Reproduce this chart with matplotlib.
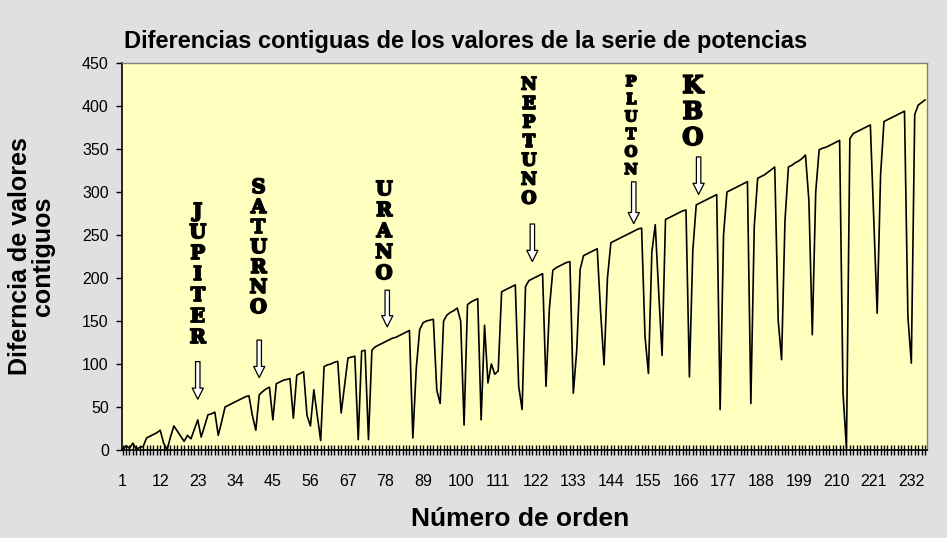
import matplotlib
matplotlib.use("Agg")
import matplotlib.pyplot as plt
import matplotlib.patheffects as pe
from matplotlib.ticker import FixedLocator
import numpy as np

# diferencias contiguas (236 puntos)
valores = [
    0, 5, 2, 8, 1, 3, 4, 14, 16, 18,
    20, 23, 8, 0, 15, 28, 22, 16, 10, 17,
    13, 24, 35, 15, 28, 41, 42, 44, 17, 33,
    50, 52, 54, 56, 58, 60, 62, 63, 40, 23,
    64, 68, 71, 73, 35, 77, 79, 81, 82, 83,
    37, 87, 89, 91, 40, 28, 70, 40, 11, 97,
    99, 100, 102, 103, 43, 75, 107, 108, 109, 12,
    115, 116, 12, 116, 120, 122, 124, 126, 128, 130,
    131, 133, 135, 137, 139, 14, 95, 140, 148, 150,
    151, 152, 70, 54, 150, 157, 160, 162, 165, 150,
    29, 169, 172, 174, 176, 35, 145, 78, 100, 88,
    92, 184, 186, 188, 190, 192, 74, 47, 190, 197,
    199, 201, 203, 205, 74, 165, 209, 212, 214, 216,
    218, 219, 66, 116, 210, 226, 228, 230, 232, 234,
    160, 99, 200, 241, 243, 245, 247, 249, 251, 253,
    255, 257, 258, 132, 89, 230, 262, 184, 110, 268,
    270, 272, 274, 276, 278, 279, 85, 232, 285, 287,
    289, 291, 293, 295, 297, 47, 250, 300, 302, 304,
    306, 308, 310, 312, 54, 260, 316, 318, 320, 323,
    326, 329, 151, 105, 267, 329, 331, 334, 336, 339,
    343, 290, 134, 300, 349, 351, 352, 354, 356, 358,
    360, 66, 2, 362, 368, 370, 372, 374, 376, 378,
    270, 159, 320, 382, 384, 386, 388, 390, 392, 394,
    155, 101, 390, 401, 404, 407,
]
orden = np.arange(1, len(valores) + 1)

etiquetas_x = [1, 12, 23, 34, 45, 56, 67, 78, 89, 100, 111,
               122, 133, 144, 155, 166, 177, 188, 199, 210, 221, 232]
ticks_y = [0, 50, 100, 150, 200, 250, 300, 350, 400, 450]

planetas = ["JUPITER", "SATURNO", "URANO", "NEPTUNO", "PLUTON", "KBO"]
texto_x = [23, 40.8, 77.6, 120, 149.9, 168]
texto_y = [276.7, 304.7, 302.3, 424.4, 427.9, 423.3]
texto_size = [14, 14, 14, 12.5, 10.5, 17.5]
texto_paso = [21, 20, 21, 19, 17.6, 26]      # px entre letras
flecha_x = [23, 41, 78.5, 121, 150.7, 169.7]
flecha_ini = [106, 131, 189, 266, 315, 344]
flecha_fin = [55.8, 81, 140, 216, 260, 294]

fig = plt.figure(figsize=(9.47, 5.38), dpi=100, facecolor="#E0E0E0")
ax = fig.add_axes([0.1288, 0.1636, 0.8501, 0.7193])
ax.set_facecolor("#FFFFC0")

ax.plot(orden, valores, color="black", lw=1.2)

ax.set_xlim(0.8, 236.6)
ax.set_ylim(0, 450)
ax.set_yticks(ticks_y)
ax.set_yticklabels([str(t) for t in ticks_y], fontsize=11.5, family="Liberation Sans")
ax.xaxis.set_major_locator(FixedLocator(etiquetas_x))
ax.xaxis.set_minor_locator(FixedLocator(orden))
ax.set_xticklabels([str(t) for t in etiquetas_x], fontsize=11.5, family="Liberation Sans")
ax.tick_params(axis="x", which="both", direction="inout", length=7, width=1, pad=14)
ax.tick_params(axis="y", direction="out", length=4.5, width=1, pad=5)

for s in ["left", "bottom"]:
    ax.spines[s].set_color("black")
    ax.spines[s].set_linewidth(1.2)
for s in ["top", "right"]:
    ax.spines[s].set_color("#808080")
    ax.spines[s].set_linewidth(1)

# nombres en vertical y flechas
grueso = [pe.withStroke(linewidth=1.3, foreground="black")]
for nombre, x, y, fs, paso in zip(planetas, texto_x, texto_y, texto_size, texto_paso):
    for k, letra in enumerate(nombre):
        ax.annotate(letra, xy=(x, y), xytext=(0, -k * paso * 0.72),
                    textcoords="offset points", ha="center", va="center",
                    fontsize=fs, fontweight="bold", family="DejaVu Serif",
                    path_effects=grueso)

for x, y0, y1 in zip(flecha_x, flecha_ini, flecha_fin):
    ax.annotate("", xy=(x, y1), xytext=(x, y0),
                arrowprops=dict(arrowstyle="simple,head_width=0.8,head_length=0.8,tail_width=0.32",
                                mutation_scale=10, fc="white", ec="black", lw=0.9))

fig.text(0.492, 0.922, "Diferencias contiguas de los valores de la serie de potencias",
         ha="center", va="center", fontsize=17, fontweight="bold", family="Liberation Sans")
fig.text(0.033, 0.524, "Diferncia de valores\ncontiguos", rotation=90, ha="center",
         va="center", fontsize=18, fontweight="bold", family="Liberation Sans",
         linespacing=0.95)
fig.text(0.549, 0.035, "Número de orden", ha="center", va="center",
         fontsize=19, fontweight="bold", family="Liberation Sans")

fig.savefig("out.png", dpi=100, facecolor=fig.get_facecolor())
